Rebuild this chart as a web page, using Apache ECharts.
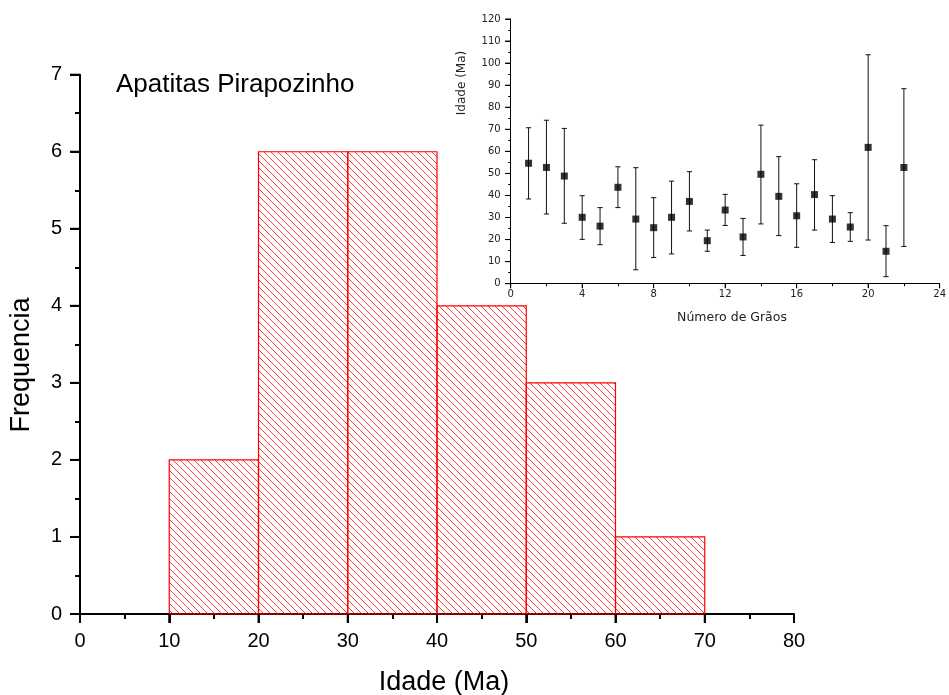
<!DOCTYPE html>
<html>
<head>
<meta charset="utf-8">
<script src="https://cdn.jsdelivr.net/npm/echarts@6/dist/echarts.min.js"></script>
<style>
html,body{margin:0;padding:0;background:#fff;}
#c{width:949px;height:695px;}
</style>
</head>
<body>
<div id="c"></div>
<script>
// Histogram data
const binStart = [10, 20, 30, 40, 50, 60];
const binEnd = [20, 30, 40, 50, 60, 70];
const freq = [2, 6, 6, 4, 3, 1];

// Tick values
const mainXTicks = [0, 10, 20, 30, 40, 50, 60, 70, 80];
const mainYTicks = [0, 1, 2, 3, 4, 5, 6, 7];
const insetXTicks = [0, 4, 8, 12, 16, 20, 24];
const insetYTicks = [0, 10, 20, 30, 40, 50, 60, 70, 80, 90, 100, 110, 120];

// Inset data (age per grain with error bars)
const grains = [1,2,3,4,5,6,7,8,9,10,11,12,13,14,15,16,17,18,19,20,21,22];
const ages = [54.6,52.7,48.8,30.1,26.1,43.7,29.3,25.4,30.1,37.3,19.5,33.4,21.2,49.6,39.6,30.8,40.4,29.3,25.7,61.8,14.7,52.7];
const upper = [70.7,74.1,70.4,39.9,34.5,53.0,52.6,39.0,46.5,50.8,24.3,40.5,29.6,71.9,57.6,45.3,56.2,39.9,32.2,103.8,26.3,88.4];
const lower = [38.4,31.6,27.4,20.1,17.7,34.5,6.3,11.9,13.5,23.9,14.7,26.4,12.8,27.1,21.8,16.5,24.3,18.7,19.2,19.8,3.2,16.9];

const titleText = 'Apatitas Pirapozinho';
const mainXName = 'Idade (Ma)';
const mainYName = 'Frequencia';
const insetXName = 'Número de Grãos';
const insetYName = 'Idade (Ma)';

// hatch pattern
const tile = document.createElement('canvas');
const T = 7;
tile.width = T; tile.height = T;
const g = tile.getContext('2d');
g.strokeStyle = '#ff2a2a';
g.lineWidth = 0.9;
g.beginPath();
g.moveTo(-1, -1); g.lineTo(T + 1, T + 1);
g.moveTo(-1, T - 1); g.lineTo(1, T + 1);
g.moveTo(T - 1, -1); g.lineTo(T + 1, 1);
g.stroke();
const hatch = { image: tile, repeat: 'repeat' };

const histData = binStart.map((s, i) => [s, binEnd[i], freq[i]]);
const errData = grains.map((x, i) => [x, lower[i], upper[i]]);
const ptData = grains.map((x, i) => [x, ages[i]]);

const mainFont = 'Liberation Sans, Arial, sans-serif';
const insetFont = 'DejaVu Sans, sans-serif';

// major tick marks drawn through the axes' scales
function tickSeries(xi, yi, values, dir, len, width) {
  return {
    type: 'custom', xAxisIndex: xi, yAxisIndex: yi, clip: false, silent: true, z: 5,
    data: values.map(v => [v]),
    renderItem: function (params, api) {
      const v = api.value(0);
      let p, shape;
      if (dir === 'x') {
        const yMin = api.getModel ? null : null;
        p = api.coord([v, yi === 0 ? mainYTicks[0] : insetYTicks[0]]);
        shape = { x1: p[0], y1: p[1], x2: p[0], y2: p[1] + len };
      } else {
        p = api.coord([xi === 0 ? mainXTicks[0] : insetXTicks[0], v]);
        shape = { x1: p[0] - len, y1: p[1], x2: p[0], y2: p[1] };
      }
      return { type: 'line', shape: shape, style: { stroke: '#000', lineWidth: width } };
    }
  };
}

const chart = echarts.init(document.getElementById('c'), null, { renderer: 'canvas' });
chart.setOption({
  animation: false,
  backgroundColor: '#fff',
  grid: [
    { left: 80, right: 155, top: 74.7, bottom: 81, containLabel: false },
    { left: 510.7, right: 7.3, top: 19, bottom: 411.3, containLabel: false }
  ],
  xAxis: [
    {
      gridIndex: 0, type: 'value', min: 0, max: 80, interval: 10,
      axisLine: { show: true, onZero: false, lineStyle: { color: '#000', width: 2 } },
      axisTick: { show: true, inside: false, length: 9, lineStyle: { color: '#000', width: 2 } },
      minorTick: { show: true, splitNumber: 2, length: 5, lineStyle: { color: '#000', width: 2 } },
      splitLine: { show: false },
      axisLabel: { color: '#000', fontSize: 20, fontFamily: mainFont, margin: 17, customValues: mainXTicks }
    },
    {
      gridIndex: 1, type: 'value', min: 0, max: 24, interval: 4,
      axisLine: { show: true, onZero: false, lineStyle: { color: '#000', width: 1 } },
      axisTick: { show: true, inside: false, length: 4.5, lineStyle: { color: '#000', width: 1 } },
      minorTick: { show: true, splitNumber: 2, length: 2.5, lineStyle: { color: '#000', width: 1 } },
      splitLine: { show: false },
      axisLabel: { color: '#222', fontSize: 10, fontFamily: insetFont, margin: 6, customValues: insetXTicks }
    }
  ],
  yAxis: [
    {
      gridIndex: 0, type: 'value', min: 0, max: 7, interval: 1,
      axisLine: { show: true, onZero: false, lineStyle: { color: '#000', width: 2 } },
      axisTick: { show: true, inside: false, length: 10, lineStyle: { color: '#000', width: 2 } },
      minorTick: { show: true, splitNumber: 2, length: 5, lineStyle: { color: '#000', width: 2 } },
      splitLine: { show: false },
      axisLabel: { color: '#000', fontSize: 20, fontFamily: mainFont, margin: 18, customValues: mainYTicks }
    },
    {
      gridIndex: 1, type: 'value', min: 0, max: 120, interval: 10,
      axisLine: { show: true, onZero: false, lineStyle: { color: '#000', width: 1 } },
      axisTick: { show: true, inside: false, length: 5.5, lineStyle: { color: '#000', width: 1 } },
      minorTick: { show: true, splitNumber: 2, length: 2.5, lineStyle: { color: '#000', width: 1 } },
      splitLine: { show: false },
      axisLabel: { color: '#222', fontSize: 10, fontFamily: insetFont, margin: 10, customValues: insetYTicks }
    }
  ],
  series: [
    {
      type: 'custom', xAxisIndex: 0, yAxisIndex: 0, data: histData, z: 1,
      renderItem: function (params, api) {
        const p0 = api.coord([api.value(0), api.value(2)]);
        const p1 = api.coord([api.value(1), 0]);
        return {
          type: 'rect',
          shape: { x: p0[0], y: p0[1], width: p1[0] - p0[0], height: p1[1] - p0[1] },
          style: { fill: hatch, stroke: '#ff0000', lineWidth: 1.2 }
        };
      }
    },
    {
      type: 'custom', xAxisIndex: 1, yAxisIndex: 1, data: errData, z: 3,
      renderItem: function (params, api) {
        const x = api.value(0);
        const lo = api.coord([x, api.value(1)]);
        const hi = api.coord([x, api.value(2)]);
        const w = 2.6;
        const st = { stroke: '#111', lineWidth: 1 };
        return {
          type: 'group',
          children: [
            { type: 'line', shape: { x1: lo[0], y1: lo[1], x2: hi[0], y2: hi[1] }, style: st },
            { type: 'line', shape: { x1: lo[0] - w, y1: lo[1], x2: lo[0] + w, y2: lo[1] }, style: st },
            { type: 'line', shape: { x1: hi[0] - w, y1: hi[1], x2: hi[0] + w, y2: hi[1] }, style: st }
          ]
        };
      }
    },
    {
      type: 'scatter', xAxisIndex: 1, yAxisIndex: 1, data: ptData, z: 4,
      symbol: 'rect', symbolSize: 7,
      itemStyle: { color: '#000' }
    },
    tickSeries(0, 0, mainXTicks, 'x', 9, 2),
    tickSeries(0, 0, mainYTicks, 'y', 10, 2),
    tickSeries(1, 1, insetXTicks, 'x', 4.5, 1),
    tickSeries(1, 1, insetYTicks, 'y', 5.5, 1)
  ],
  graphic: [
    { type: 'text', left: 116, top: 72, style: { text: titleText, fill: '#000', font: '26px ' + mainFont } },
    { type: 'text', x: 444, y: 683, style: { text: mainXName, fill: '#000', font: '27px ' + mainFont, textAlign: 'center', textVerticalAlign: 'middle' } },
    { type: 'text', x: 22, y: 365, rotation: Math.PI / 2, style: { text: mainYName, fill: '#000', font: '27px ' + mainFont, textAlign: 'center', textVerticalAlign: 'middle' } },
    { type: 'text', x: 732, y: 318, style: { text: insetXName, fill: '#222', font: '12.5px ' + insetFont, textAlign: 'center', textVerticalAlign: 'middle' } },
    { type: 'text', x: 462, y: 83, rotation: Math.PI / 2, style: { text: insetYName, fill: '#222', font: '12px ' + insetFont, textAlign: 'center', textVerticalAlign: 'middle' } }
  ]
});
</script>
</body>
</html>
